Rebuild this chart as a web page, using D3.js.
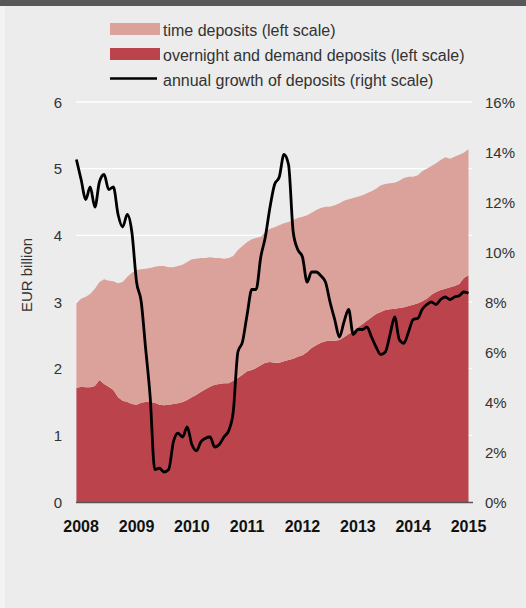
<!DOCTYPE html>
<html>
<head>
<meta charset="utf-8">
<script src="https://cdn.jsdelivr.net/npm/d3@7"></script>
<style>
  body { margin: 0; background: #ebeceb; font-family: "Liberation Sans", Arial, sans-serif; }
  #chart svg { display: block; }
</style>
</head>
<body>
<div id="chart"></div>
<script>
// monthly values, Dec 2007 .. Jan 2015
const startMonth = new Date(2007, 11, 1);
const overnight = [
  1.71, 1.73, 1.72, 1.72, 1.74, 1.83, 1.77, 1.73, 1.68, 1.57, 1.52, 1.50, 1.47,
  1.46, 1.49, 1.50, 1.50, 1.49, 1.46, 1.45, 1.46, 1.47, 1.48, 1.50, 1.53,
  1.57, 1.61, 1.65, 1.69, 1.73, 1.76, 1.77, 1.78, 1.78, 1.82, 1.86, 1.91,
  1.96, 1.98, 2.01, 2.05, 2.09, 2.10, 2.09, 2.09, 2.11, 2.13, 2.15, 2.18,
  2.20, 2.25, 2.31, 2.35, 2.39, 2.41, 2.42, 2.42, 2.43, 2.47, 2.52, 2.56,
  2.62, 2.67, 2.72, 2.77, 2.82, 2.85, 2.88, 2.89, 2.90, 2.91, 2.92, 2.94,
  2.96, 2.98, 3.01, 3.05, 3.11, 3.15, 3.18, 3.20, 3.22, 3.24, 3.27, 3.36,
  3.40
];
const totalDeposits = [
  2.98, 3.05, 3.08, 3.12, 3.20, 3.30, 3.34, 3.32, 3.31, 3.28, 3.30, 3.38, 3.44,
  3.48, 3.49, 3.50, 3.51, 3.53, 3.54, 3.54, 3.52, 3.52, 3.54, 3.56, 3.60,
  3.64, 3.65, 3.66, 3.66, 3.67, 3.66, 3.66, 3.65, 3.66, 3.69, 3.78, 3.84,
  3.90, 3.94, 3.96, 3.98, 4.05, 4.10, 4.12, 4.15, 4.18, 4.20, 4.23, 4.26,
  4.28, 4.30, 4.34, 4.38, 4.41, 4.43, 4.43, 4.45, 4.48, 4.52, 4.54, 4.56,
  4.58, 4.60, 4.63, 4.66, 4.70, 4.75, 4.77, 4.78, 4.79, 4.82, 4.86, 4.88,
  4.88, 4.90, 4.96, 5.00, 5.04, 5.08, 5.13, 5.17, 5.15, 5.18, 5.21, 5.24,
  5.29
];
const timeDeposits = totalDeposits.map((t, i) => +(t - overnight[i]).toFixed(2));
const growth = [
  13.7, 12.9, 12.1, 12.6, 11.8, 12.8, 13.1, 12.5, 12.6, 11.5, 11.0, 11.5, 10.8,
  8.8, 8.0, 6.2, 4.2, 1.3, 1.35, 1.2, 1.3, 2.4, 2.75, 2.6, 3.0,
  2.3, 2.05, 2.4, 2.55, 2.6, 2.2, 2.3, 2.6, 2.85, 3.6, 6.0, 6.4,
  7.5, 8.5, 8.5, 9.8, 10.6, 11.8, 12.7, 13.0, 13.9, 13.5, 10.8, 10.1,
  9.8, 8.8, 9.2, 9.2, 9.05, 8.8, 8.0, 7.3, 6.6, 7.2, 7.7, 6.7,
  6.9, 6.9, 7.0, 6.6, 6.2, 5.9, 6.0, 6.7, 7.4, 6.5, 6.35, 6.8,
  7.3, 7.35, 7.7, 7.9, 8.0, 7.9, 8.1, 8.2, 8.1, 8.2, 8.25, 8.4,
  8.35
];
const years = [2008, 2009, 2010, 2011, 2012, 2013, 2014, 2015];
const leftTicks = [0, 1, 2, 3, 4, 5, 6];
const rightTicks = [0, 2, 4, 6, 8, 10, 12, 14, 16];
const legendLabels = [
  "time deposits (left scale)",
  "overnight and demand deposits (left scale)",
  "annual growth of deposits (right scale)"
];

const W = 526, H = 608;
const months = d3.timeMonth.range(startMonth, d3.timeMonth.offset(startMonth, overnight.length));
const data = months.map((d, i) => ({
  date: d, overnight: overnight[i], time: timeDeposits[i], growth: growth[i]
}));

const svg = d3.select("#chart").append("svg")
  .attr("width", W).attr("height", H);

svg.append("rect").attr("width", W).attr("height", H).attr("fill", "#ebeceb");
svg.append("rect").attr("width", 5).attr("height", H).attr("fill", "#f3f3f3");
svg.append("rect").attr("width", W).attr("height", 6).attr("fill", "#58585a");

const x = d3.scaleTime()
  .domain([startMonth, new Date(2015, 0, 1)])
  .range([76.4, 468.5]);
const y = d3.scaleLinear().domain([0, 6]).range([502, 102]);
const y2 = d3.scaleLinear().domain([0, 16]).range([502, 102]);

// gridlines
svg.append("g")
  .selectAll("line")
  .data(leftTicks.slice(1))
  .enter().append("line")
  .attr("x1", 76).attr("x2", 472)
  .attr("y1", d => y(d)).attr("y2", d => y(d))
  .attr("stroke", "#fff").attr("stroke-width", 1.3);

const stack = d3.stack().keys(["overnight", "time"])(data);
const colors = { overnight: "#bb444c", time: "#dba19b" };

const area = d3.area()
  .x(d => x(d.data.date))
  .y0(d => y(d[0]))
  .y1(d => y(d[1]));

svg.append("g")
  .selectAll("path")
  .data(stack)
  .enter().append("path")
  .attr("d", area)
  .attr("fill", d => colors[d.key]);

const line = d3.line()
  .x(d => x(d.date))
  .y(d => y2(d.growth))
  .curve(d3.curveMonotoneX);

svg.append("path")
  .datum(data)
  .attr("d", line)
  .attr("fill", "none")
  .attr("stroke", "#000")
  .attr("stroke-width", 2.8)
  .attr("stroke-linejoin", "round");

// x axis
svg.append("line")
  .attr("x1", 76).attr("x2", 473)
  .attr("y1", 502.5).attr("y2", 502.5)
  .attr("stroke", "#555").attr("stroke-width", 1.5);

svg.append("g")
  .selectAll("text")
  .data(years)
  .enter().append("text")
  .attr("x", d => x(new Date(d, 0, 1)))
  .attr("y", 532)
  .attr("text-anchor", "middle")
  .attr("font-size", 16)
  .attr("font-weight", "bold")
  .attr("fill", "#111")
  .text(d => d);

svg.append("g")
  .selectAll("text")
  .data(leftTicks)
  .enter().append("text")
  .attr("x", 62)
  .attr("y", d => y(d))
  .attr("dy", "0.38em")
  .attr("text-anchor", "end")
  .attr("font-size", 15)
  .attr("fill", "#333")
  .text(d => d);

svg.append("g")
  .selectAll("text")
  .data(rightTicks)
  .enter().append("text")
  .attr("x", 485)
  .attr("y", d => y2(d))
  .attr("dy", "0.38em")
  .attr("font-size", 15)
  .attr("fill", "#333")
  .text(d => d + "%");

svg.append("text")
  .attr("transform", "translate(32,275)rotate(-90)")
  .attr("text-anchor", "middle")
  .attr("font-size", 15)
  .attr("fill", "#333")
  .text("EUR billion");

// legend
const legend = svg.append("g").attr("transform", "translate(110,0)");
legend.append("rect").attr("x", 0).attr("y", 23).attr("width", 50).attr("height", 12).attr("fill", colors.time);
legend.append("rect").attr("x", 0).attr("y", 48).attr("width", 50).attr("height", 12).attr("fill", colors.overnight);
legend.append("line").attr("x1", 0).attr("x2", 47).attr("y1", 78.5).attr("y2", 78.5)
  .attr("stroke", "#000").attr("stroke-width", 2.5);
legend.selectAll("text.lab")
  .data(legendLabels)
  .enter().append("text")
  .attr("class", "lab")
  .attr("x", 53)
  .attr("y", (d, i) => [30, 55, 80][i])
  .attr("dy", "0.36em")
  .attr("font-size", 16)
  .attr("fill", "#333")
  .text(d => d);
</script>
</body>
</html>
